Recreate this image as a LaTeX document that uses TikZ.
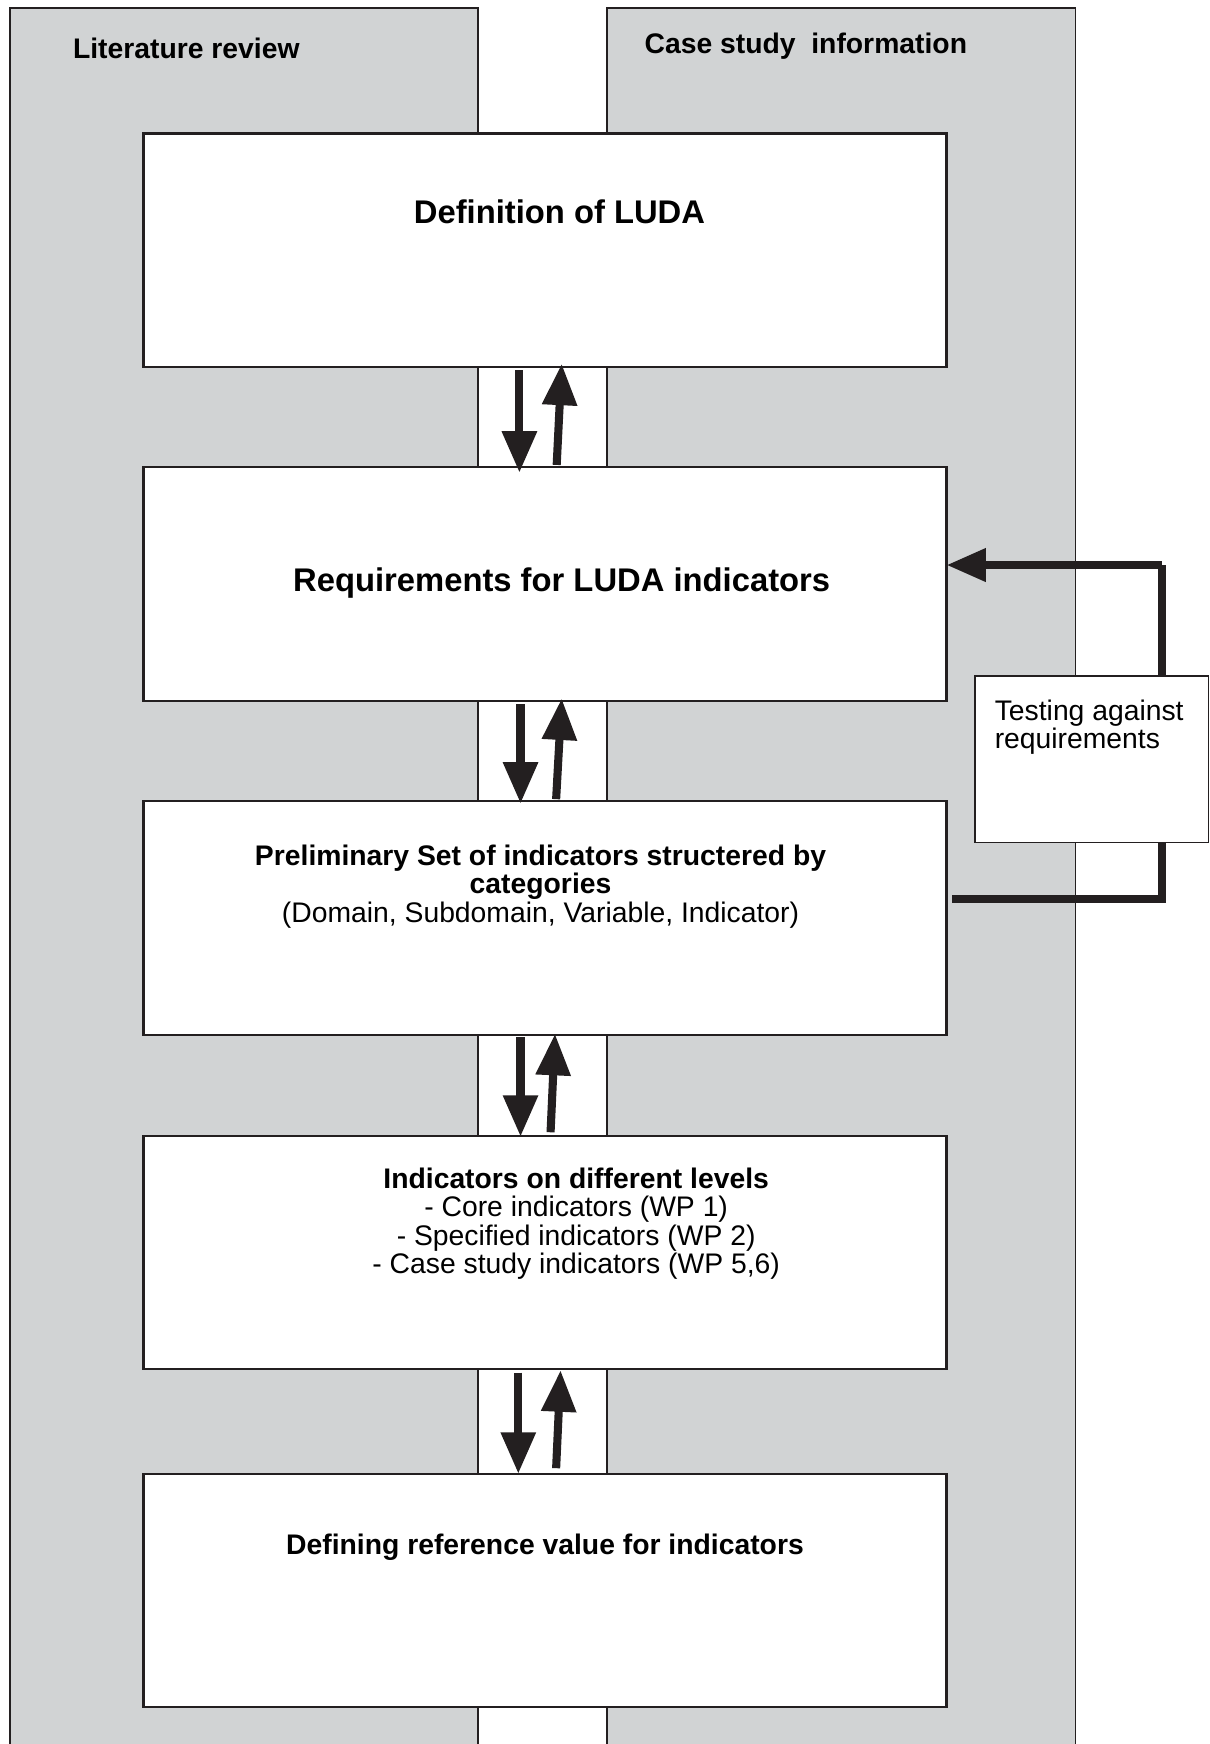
\documentclass[tikz,border=0pt]{standalone}
\usepackage{fontspec}
\setmainfont{Liberation Sans}
\usetikzlibrary{arrows.meta,calc}
\definecolor{colgray}{HTML}{D1D3D4}
\definecolor{ink}{HTML}{231F20}
\begin{document}
\begin{tikzpicture}[x=0.55pt,y=-0.55pt,
  column/.style={draw=ink,line width=0.8pt,fill=colgray},
  stepbox/.style={draw=ink,line width=1.1pt,fill=white,rectangle,inner sep=0pt,outer sep=0pt,
    minimum width=397.1pt,minimum height=115.5pt},
  testbox/.style={draw=ink,line width=0.8pt,fill=white,rectangle,inner sep=0pt,outer sep=0pt,
    minimum width=115.4pt,minimum height=82.4pt},
  hdr/.style={font=\fontsize{14}{14}\selectfont\bfseries,inner sep=0pt,anchor=base},
  ttl/.style={font=\fontsize{16.2}{16.2}\selectfont\bfseries,inner sep=0pt,anchor=base},
  body/.style={font=\fontsize{14}{14}\selectfont,inner sep=0pt,anchor=base,align=center},
  flowarrow/.style={draw=ink,line width=4pt,-{Triangle[length=20.5pt,width=16.5pt]}},
  fbline/.style={draw=ink,line width=4pt},
  fbarrow/.style={draw=ink,line width=4pt,-{Triangle[length=19.5pt,width=15.7pt]}}]
\useasboundingbox (0,0) rectangle (1087,1568);
\clip (0,0) rectangle (1087,1568);
% columns
\path[column] (9,7) rectangle (430,1600);
\path[column] (546,7) rectangle (967,1600);
\node[hdr] (lit) at (167.5,53) {Literature review};
\node[hdr] (cs) at (724.5,48) {Case study\ \ information};
% feedback loop (behind boxes)
\coordinate (fbA) at (1045,808);
\coordinate (fbB) at (1045,508);
% boxes
\node[stepbox] (b1) at (490,225) {};
\node[stepbox] (b2) at (490,525) {};
\node[stepbox] (b3) at (490,825.5) {};
\node[stepbox] (b4) at (490,1126) {};
\node[stepbox] (b5) at (490,1430) {};
\path[fbline] ($(b3.east)+(5,-17.5)$) -| (fbA) -- (fbB);
\draw[fbarrow] (fbB) -- (b2.east |- fbB);
\node[testbox] (test) at (981.5,682.7) {};
% texts
\node[ttl] (t1) at (503,201) {Definition of LUDA};
\node[ttl] (t2) at (505,532) {Requirements for LUDA indicators};
\node[body] (t3) at (486,829) {\bfseries Preliminary Set of indicators structered by\\\bfseries categories\\(Domain, Subdomain, Variable, Indicator)};
\node[body] (t4) at (518,1145) {\bfseries Indicators on different levels\\- Core indicators (WP 1)\\- Specified indicators (WP 2)\\- Case study indicators (WP 5,6)};
\node[hdr] (t5) at (490,1398) {Defining reference value for indicators};
\node[body,align=left,anchor=base west] (tt) at (894,673) {Testing against\\requirements};
% arrows between boxes
\draw[flowarrow] ($(b1.south)+(-23,3)$) -- ($(b2.north)+(-23,5)$);
\draw[flowarrow] ($(b2.north)+(10.5,-2)$) -- ($(b1.south)+(15,-3)$);
\draw[flowarrow] ($(b2.south)+(-22,3)$) -- ($(b3.north)+(-22,2)$);
\draw[flowarrow] ($(b3.north)+(10,-2)$) -- ($(b2.south)+(15,-2)$);
\draw[flowarrow] ($(b3.south)+(-22,2)$) -- ($(b4.north)+(-22,1)$);
\draw[flowarrow] ($(b4.north)+(5,-3)$) -- ($(b3.south)+(9,-1)$);
\draw[flowarrow] ($(b4.south)+(-24,3)$) -- ($(b5.north)+(-24,0)$);
\draw[flowarrow] ($(b5.north)+(10,-5)$) -- ($(b4.south)+(14,1)$);
\end{tikzpicture}
\end{document}
